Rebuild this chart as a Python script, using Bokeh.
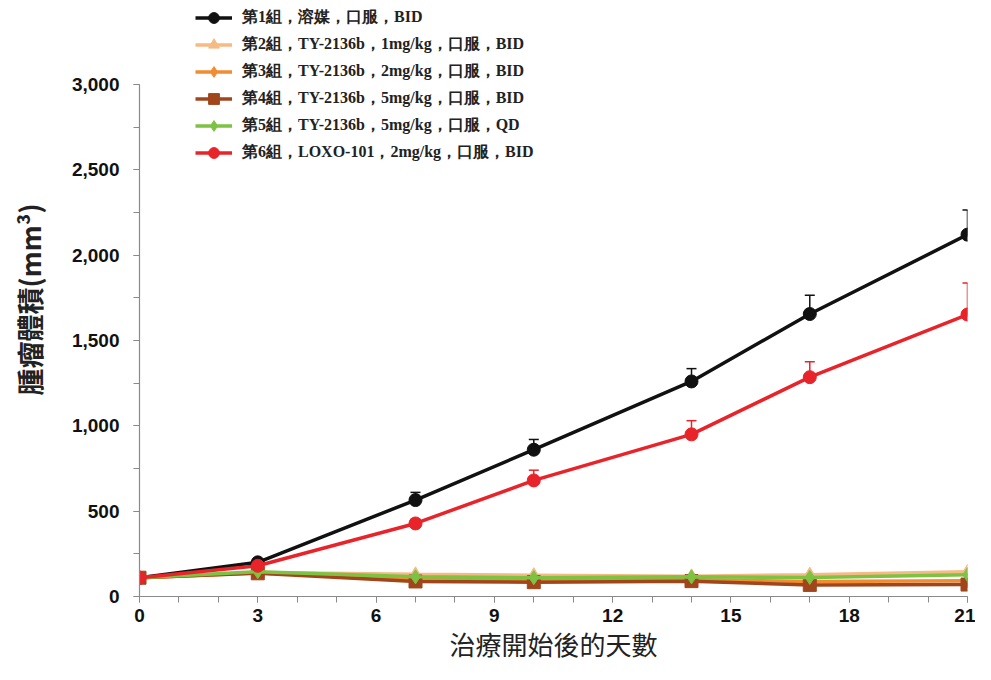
from bokeh.plotting import figure
from bokeh.models import (ColumnDataSource, Whisker, TeeHead, Legend, LegendItem,
                          FixedTicker, NumeralTickFormatter, Range1d)
from bokeh.embed import file_html
from bokeh.resources import INLINE

days = [0, 3, 7, 10, 14, 17, 21]
labels = [
    "第1組，溶媒，口服，BID",
    "第2組，TY-2136b，1mg/kg，口服，BID",
    "第3組，TY-2136b，2mg/kg，口服，BID",
    "第4組，TY-2136b，5mg/kg，口服，BID",
    "第5組，TY-2136b，5mg/kg，口服，QD",
    "第6組，LOXO-101，2mg/kg，口服，BID",
]
g1 = [110, 200, 565, 860, 1260, 1655, 2120]
g1_err = [0, 15, 45, 60, 75, 110, 145]
g2 = [110, 140, 130, 125, 118, 128, 145]
g3 = [110, 138, 105, 98, 100, 88, 92]
g4 = [110, 136, 88, 84, 90, 68, 70]
g5 = [110, 145, 115, 110, 115, 112, 128]
g6 = [110, 180, 428, 680, 950, 1285, 1652]
g6_err = [0, 10, 25, 60, 80, 90, 185]

y_ticks = [0, 500, 1000, 1500, 2000, 2500, 3000]
x_ticks = [0, 3, 6, 9, 12, 15, 18, 21]

colors = ["#111111", "#F6BA84", "#F28C32", "#A1461C", "#7DC242", "#E8242A"]
markers = ["circle", "triangle", "diamond", "square", "diamond", "circle"]
sizes = [13, 13, 14, 13, 14, 13]
series = [g1, g2, g3, g4, g5, g6]
errs = {0: g1_err, 5: g6_err}

# frame extends above 3000 so the legend (drawn inside the frame) fits at top
p = figure(width=975, height=664, output_backend="svg", toolbar_location=None,
           x_range=Range1d(0, 21), y_range=Range1d(0, 3480),
           min_border_left=139, min_border_right=8, min_border_top=2,
           min_border_bottom=68)
p.outline_line_color = None
p.xgrid.visible = False
p.ygrid.visible = False
p.background_fill_color = "white"

items = []
for i, (ys, c, m, s) in enumerate(zip(series, colors, markers, sizes)):
    src = ColumnDataSource(dict(x=days, y=ys))
    if i in errs:
        up = [a + b for a, b in zip(ys, errs[i])]
        esrc = ColumnDataSource(dict(x=days, lower=ys, upper=up))
        w = Whisker(source=esrc, base="x", lower="lower", upper="upper",
                    line_color=c, line_width=1.5,
                    upper_head=TeeHead(size=10, line_color=c, line_width=1.5),
                    lower_head=None)
        p.add_layout(w)
    l = p.line("x", "y", source=src, line_color=c, line_width=3.5)
    sc = p.scatter("x", "y", source=src, marker=m, size=s, fill_color=c, line_color=c)
    items.append(LegendItem(label=labels[i], renderers=[l, sc]))

legend = Legend(items=items, location=(56, 430), orientation="vertical",
                label_text_font="Liberation Serif", label_text_font_style="bold",
                label_text_font_size="16px", label_text_color="#222222",
                glyph_width=37, glyph_height=27, label_height=27, spacing=0,
                label_standoff=10, padding=0, margin=0,
                background_fill_alpha=0, border_line_color=None)
p.add_layout(legend)

p.xaxis.ticker = FixedTicker(ticks=x_ticks, minor_ticks=list(range(0, 22)))
p.yaxis.ticker = FixedTicker(ticks=y_ticks, minor_ticks=list(range(0, 3001, 250)))
p.yaxis.formatter = NumeralTickFormatter(format="0,0")
p.yaxis.bounds = (0, 3000)

for ax in (p.xaxis[0], p.yaxis[0]):
    ax.axis_line_color = "#8a8a8a"
    ax.axis_line_width = 1.2
    ax.major_tick_line_color = "#8a8a8a"
    ax.minor_tick_line_color = "#8a8a8a"
    ax.major_tick_in = 0
    ax.major_tick_out = 6
    ax.minor_tick_in = 0
    ax.minor_tick_out = 6
    ax.major_label_text_font = "Liberation Sans"
    ax.major_label_text_font_style = "bold"
    ax.major_label_text_font_size = "19px"
    ax.major_label_text_color = "#111111"

p.yaxis.major_label_standoff = 14
p.xaxis.major_label_standoff = 6

p.xaxis.axis_label = "治療開始後的天數"
p.xaxis.axis_label_text_font = "Noto Sans CJK TC"
p.xaxis.axis_label_text_font_style = "normal"
p.xaxis.axis_label_text_font_size = "26px"
p.xaxis.axis_label_text_color = "#222222"
p.xaxis.axis_label_standoff = 0

p.yaxis.axis_label = "腫瘤體積(mm³)"
p.yaxis.axis_label_text_font = "Noto Sans CJK TC"
p.yaxis.axis_label_text_font_style = "bold"
p.yaxis.axis_label_text_font_size = "27px"
p.yaxis.axis_label_text_color = "#222222"
p.yaxis.axis_label_standoff = 20

open("out.html", "w").write(file_html(p, INLINE))
